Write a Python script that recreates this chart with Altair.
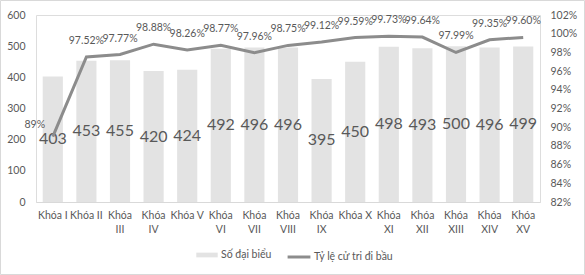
import altair as alt
import pandas as pd

categories = ["Khóa I", "Khóa II", "Khóa III", "Khóa IV", "Khóa V", "Khóa VI", "Khóa VII",
              "Khóa VIII", "Khóa IX", "Khóa X", "Khóa XI", "Khóa XII", "Khóa XIII", "Khóa XIV", "Khóa XV"]
delegates = [403, 453, 455, 420, 424, 492, 496, 496, 395, 450, 498, 493, 500, 496, 499]
turnout = [89, 97.52, 97.77, 98.88, 98.26, 98.77, 97.96, 98.75, 99.12, 99.59, 99.73, 99.64, 97.99, 99.35, 99.60]
single_line = ["Khóa I", "Khóa II", "Khóa V", "Khóa X"]

S_BAR = "Số đại biểu"
S_LINE = "Tỷ lệ cử tri đi bầu"

df = pd.DataFrame({"cat": categories, "val": delegates, "rate": turnout, "idx": list(range(len(categories)))})

FONT = "Lato"
GREY = "#595959"
W, H = 504, 187

label_expr = "indexof(%s, datum.label) >= 0 ? datum.label : split(datum.label, ' ')" % (
    "[" + ",".join("'%s'" % s for s in single_line) + "]")

x = alt.X("cat:N", sort=categories, title=None,
          scale=alt.Scale(paddingInner=0.4, paddingOuter=0.2),
          axis=alt.Axis(labelAngle=0, labelExpr=label_expr, ticks=False, domainColor="#d9d9d9",
                        labelColor=GREY, labelFont=FONT, labelFontSize=10.5, labelPadding=8,
                        labelLineHeight=14))

left_axis = alt.Axis(values=[0, 100, 200, 300, 400, 500, 600], grid=False, ticks=False, domain=False,
                     labelColor=GREY, labelFont=FONT, labelFontSize=10.5, labelPadding=11)
right_axis = alt.Axis(orient="right", values=list(range(82, 103, 2)), grid=False, ticks=False,
                      domain=False, labelExpr="datum.value + '%'",
                      labelColor=GREY, labelFont=FONT, labelFontSize=10.5, labelPadding=10)
val_scale = alt.Scale(domain=[0, 600])
pct_scale = alt.Scale(domain=[82, 102])

base = alt.Chart(df)

bars = base.mark_bar(strokeWidth=0).encode(
    x=x,
    y=alt.Y("val:Q", title=None, scale=val_scale, axis=left_axis),
    fill=alt.Fill("s:N", scale=alt.Scale(domain=[S_BAR], range=["#e3e3e3"]),
                  legend=alt.Legend(title=None, orient="none", legendX=160, legendY=229,
                                    symbolType="M-1,-0.22H1V0.22H-1Z", symbolSize=460,
                                    symbolStrokeWidth=0, labelFont=FONT, labelFontSize=10.5,
                                    labelColor=GREY, labelOffset=3)),
).transform_calculate(s="'%s'" % S_BAR)

bar_text = base.mark_text(font=FONT, fontSize=16, color=GREY, baseline="middle").encode(
    x=alt.X("cat:N", sort=categories),
    y=alt.Y("mid:Q", title=None, scale=val_scale, axis=left_axis),
    text=alt.Text("val:Q"),
).transform_calculate(mid="datum.val / 2")

bar_layer = alt.layer(bars, bar_text)

line = base.mark_line(strokeWidth=3).encode(
    x=alt.X("cat:N", sort=categories),
    y=alt.Y("rate:Q", title=None, scale=pct_scale, axis=right_axis),
    stroke=alt.Stroke("s:N", scale=alt.Scale(domain=[S_LINE], range=["#8c8c8c"]),
                      legend=alt.Legend(title=None, orient="none", legendX=250, legendY=229,
                                        symbolType="stroke", symbolSize=520, symbolStrokeWidth=3,
                                        labelFont=FONT, labelFontSize=10.5, labelColor=GREY,
                                        labelOffset=2)),
).transform_calculate(s="'%s'" % S_LINE)

pct_label = "datum.rate % 1 == 0 ? format(datum.rate, 'd') + '%' : format(datum.rate, '.2f') + '%'"

line_text = base.mark_text(font=FONT, fontSize=10.5, color=GREY, baseline="middle", dy=-16).encode(
    x=alt.X("cat:N", sort=categories),
    y=alt.Y("rate:Q", title=None, scale=pct_scale, axis=right_axis),
    text="lab:N",
).transform_calculate(lab=pct_label).transform_filter("datum.idx > 0")

first_text = base.mark_text(font=FONT, fontSize=10.5, color=GREY, baseline="middle", dx=-18, dy=-12).encode(
    x=alt.X("cat:N", sort=categories),
    y=alt.Y("rate:Q", title=None, scale=pct_scale, axis=right_axis),
    text="lab:N",
).transform_calculate(lab=pct_label).transform_filter("datum.idx == 0")

line_layer = alt.layer(line, line_text, first_text)

border = alt.Chart(pd.DataFrame({"a": [0]})).mark_rect(fill=None, stroke="#d9d9d9", strokeWidth=1).encode(
    x=alt.value(-35.5), x2=alt.value(548.5), y=alt.value(-14.5), y2=alt.value(259.5))

chart = alt.layer(bar_layer, line_layer, border).resolve_scale(
    y="independent", fill="independent", stroke="independent"
).properties(
    width=W, height=H,
    autosize=alt.AutoSizeParams(type="none"),
    padding={"left": 36, "top": 15, "right": 45, "bottom": 73},
).configure_view(stroke=None).configure(background="white")

chart.save("out.html", embed_options={"renderer": "svg", "actions": False})
